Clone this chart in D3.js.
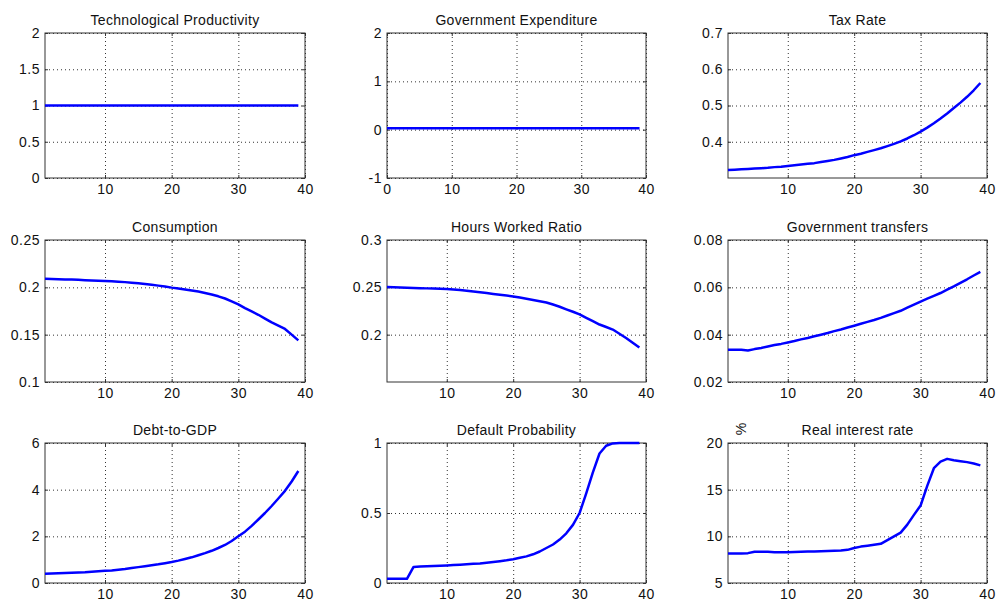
<!DOCTYPE html>
<html>
<head>
<meta charset="utf-8">
<script src="https://cdn.jsdelivr.net/npm/d3@7"></script>
<style>
  html, body { margin: 0; padding: 0; background: #fff; }
  svg text { font-family: "Liberation Sans", Arial, sans-serif; font-size: 14px; fill: #111; }
  .title { letter-spacing: 0.3px; }
  .box { fill: none; stroke: #333; stroke-width: 1; }
  .grid line { stroke: #333; stroke-dasharray: 1,3; }
  .grid path { display: none; }
  .ax path { display: none; }
  .ax line { stroke: #333; }
</style>
</head>
<body>
<div id="chart"></div>
<script>
// periods on the x axis
const periods = [1,2,3,4,5,6,7,8,9,10,11,12,13,14,15,16,17,18,19,20,
  21,22,23,24,25,26,27,28,29,30,31,32,33,34,35,36,37,38,39];

// flat series, only the end points
const techPeriods = [1, 39];
const techProd = [1, 1];
const govExpPeriods = [0, 39];
const govExp = [0.03, 0.03];

const taxRate = [0.322,0.323,0.324,0.325,0.326,0.327,0.328,0.330,0.331,0.333,
  0.335,0.337,0.339,0.341,0.344,0.347,0.350,0.354,0.358,0.363,
  0.367,0.372,0.377,0.382,0.388,0.394,0.401,0.409,0.418,0.428,
  0.439,0.451,0.464,0.478,0.493,0.508,0.524,0.542,0.562];

const consumption = [0.2090,0.2088,0.2086,0.2084,0.2082,0.2079,0.2076,0.2073,0.2070,0.2067,
  0.2063,0.2059,0.2055,0.2049,0.2042,0.2035,0.2027,0.2018,0.2008,0.1997,
  0.1988,0.1978,0.1967,0.1955,0.1940,0.1925,0.1905,0.1882,0.1852,0.1820,
  0.1780,0.1745,0.1710,0.1670,0.1630,0.1595,0.1560,0.1500,0.1440];

const hoursRatio = [0.2504,0.2502,0.2499,0.2496,0.2493,0.2491,0.2489,0.2487,0.2485,0.2482,
  0.2477,0.2471,0.2465,0.2456,0.2447,0.2439,0.2430,0.2422,0.2413,0.2404,
  0.2392,0.2380,0.2367,0.2354,0.2340,0.2318,0.2295,0.2268,0.2242,0.2214,
  0.2178,0.2142,0.2107,0.2081,0.2054,0.2010,0.1964,0.1914,0.1864];

const transfers = [0.0336,0.0336,0.0336,0.0333,0.0339,0.0344,0.0350,0.0356,0.0361,0.0367,
  0.0373,0.0380,0.0386,0.0393,0.0400,0.0407,0.0415,0.0422,0.0430,0.0438,
  0.0446,0.0454,0.0462,0.0471,0.0481,0.0491,0.0501,0.0514,0.0527,0.0540,
  0.0552,0.0564,0.0576,0.0590,0.0604,0.0619,0.0634,0.0650,0.0665];

const debtGdp = [0.40,0.41,0.42,0.43,0.44,0.45,0.46,0.48,0.50,0.52,
  0.54,0.57,0.60,0.64,0.68,0.72,0.76,0.80,0.85,0.90,
  0.96,1.03,1.10,1.19,1.28,1.38,1.50,1.63,1.80,2.00,
  2.20,2.45,2.72,3.00,3.30,3.62,3.95,4.35,4.80];

const defaultProb = [0.03,0.03,0.03,0.03,0.115,0.117,0.119,0.121,0.123,0.125,
  0.128,0.131,0.134,0.137,0.140,0.145,0.150,0.156,0.162,0.170,
  0.180,0.190,0.205,0.225,0.250,0.275,0.310,0.355,0.415,0.500,
  0.640,0.790,0.925,0.980,0.997,1,1,1,1];

const realRate = [8.15,8.15,8.15,8.20,8.35,8.35,8.35,8.30,8.30,8.30,
  8.32,8.35,8.37,8.38,8.40,8.42,8.45,8.48,8.55,8.75,
  8.90,9.00,9.10,9.20,9.60,10.00,10.40,11.25,12.30,13.30,
  15.40,17.30,18.00,18.30,18.15,18.05,17.95,17.80,17.60];

const titles = ["Technological Productivity", "Government Expenditure", "Tax Rate",
  "Consumption", "Hours Worked Ratio", "Government transfers",
  "Debt-to-GDP", "Default Probability", "Real interest rate"];
const yDomains = [[0, 2], [-1, 2], [0.3, 0.7], [0.1, 0.25], [0.15, 0.3],
  [0.02, 0.08], [0, 6], [0, 1], [5, 20]];
const yTicks = [[0, 0.5, 1, 1.5, 2], [-1, 0, 1, 2], [0.4, 0.5, 0.6, 0.7],
  [0.1, 0.15, 0.2, 0.25], [0.2, 0.25, 0.3], [0.02, 0.04, 0.06, 0.08],
  [0, 2, 4, 6], [0, 0.5, 1], [5, 10, 15, 20]];
const xDomains = [[1, 40], [0, 40], [1, 40], [1, 40], [1, 40], [1, 40], [1, 40], [1, 40], [1, 40]];
const xTicks = [[10, 20, 30, 40], [0, 10, 20, 30, 40], [10, 20, 30, 40],
  [10, 20, 30, 40], [10, 20, 30, 40], [10, 20, 30, 40],
  [10, 20, 30, 40], [10, 20, 30, 40], [10, 20, 30, 40]];

const series = [
  [techPeriods, techProd], [govExpPeriods, govExp], [periods, taxRate],
  [periods, consumption], [periods, hoursRatio], [periods, transfers],
  [periods, debtGdp], [periods, defaultProb], [periods, realRate]
];

// subplot boxes
const cols = [[45, 305], [387, 646], [728, 987]];
const rows = [[33, 178], [240, 382], [443, 583]];

// matlab style labels: 2 not 2.0, -1 with a plain hyphen
const fmt = d => String(d);

const svg = d3.select("#chart").append("svg")
  .attr("width", 997)
  .attr("height", 603);

series.forEach((s, i) => {
  let [x0, x1] = cols[i % 3];
  let [y0, y1] = rows[Math.floor(i / 3)];
  let width = x1 - x0;
  let height = y1 - y0;

  let x = d3.scaleLinear().domain(xDomains[i]).range([0, width]);
  let y = d3.scaleLinear().domain(yDomains[i]).range([height, 0]);

  let g = svg.append("g").attr("transform", `translate(${x0},${y0})`);

  // dotted grid
  g.append("g").attr("class", "grid")
    .attr("transform", `translate(0,${height})`)
    .call(d3.axisBottom(x).tickValues(xTicks[i]).tickSize(-height).tickFormat(""));
  g.append("g").attr("class", "grid")
    .call(d3.axisLeft(y).tickValues(yTicks[i]).tickSize(-width).tickFormat(""));

  // inward ticks on all four sides, labels bottom and left
  g.append("g").attr("class", "ax")
    .attr("transform", `translate(0,${height})`)
    .call(d3.axisBottom(x).tickValues(xTicks[i]).tickFormat(fmt)
      .tickSizeInner(-3).tickSizeOuter(0).tickPadding(6));
  g.append("g").attr("class", "ax")
    .call(d3.axisTop(x).tickValues(xTicks[i]).tickSizeInner(-3).tickSizeOuter(0).tickFormat(""));
  g.append("g").attr("class", "ax")
    .call(d3.axisLeft(y).tickValues(yTicks[i]).tickFormat(fmt)
      .tickSizeInner(-3).tickSizeOuter(0).tickPadding(5));
  g.append("g").attr("class", "ax")
    .attr("transform", `translate(${width},0)`)
    .call(d3.axisRight(y).tickValues(yTicks[i]).tickSizeInner(-3).tickSizeOuter(0).tickFormat(""));

  g.selectAll(".ax text")
    .style("font-size", "14px")
    .style("letter-spacing", "0.5px")
    .attr("fill", "#111");

  g.append("rect").attr("class", "box")
    .attr("x", 0).attr("y", 0)
    .attr("width", width).attr("height", height);

  let line = d3.line()
    .x((d, k) => x(s[0][k]))
    .y(d => y(d));
  g.append("path")
    .datum(s[1])
    .attr("d", line)
    .style("fill", "none")
    .style("stroke", "#0000ff")
    .style("stroke-width", "2.5px")
    .style("stroke-linejoin", "round");

  g.append("text")
    .attr("class", "title")
    .attr("x", width / 2)
    .attr("y", -8)
    .attr("text-anchor", "middle")
    .text(titles[i]);
});

// the "%" label above the last panel, turned like a y label
svg.append("text")
  .attr("transform", `translate(${cols[2][0] + 13},${rows[2][0] - 14}) rotate(-90)`)
  .attr("text-anchor", "middle")
  .attr("dy", "0.35em")
  .text("%");
</script>
</body>
</html>
